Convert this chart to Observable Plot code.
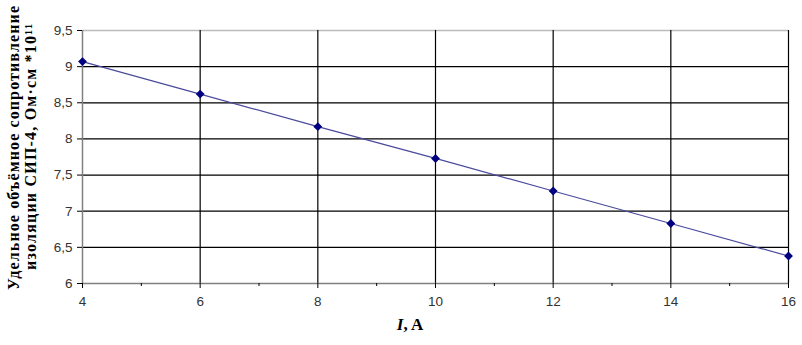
<!DOCTYPE html>
<html>
<head>
<meta charset="utf-8">
<script src="https://cdn.jsdelivr.net/npm/d3@7"></script>
<script src="https://cdn.jsdelivr.net/npm/@observablehq/plot@0.6"></script>
<style>
  html, body { margin: 0; padding: 0; background: #fff; }
  #chart svg { display: block; }
</style>
</head>
<body>
<div id="chart"></div>
<script>
const currents = [4, 6, 8, 10, 12, 14, 16];
const resistivity = [9.07, 8.62, 8.17, 7.73, 7.28, 6.83, 6.38];
const xTicks = [4, 6, 8, 10, 12, 14, 16];
const xMinorTicks = [5, 7, 9, 11, 13, 15];
const yTicks = [6, 6.5, 7, 7.5, 8, 8.5, 9, 9.5];
const yLabelLines = ["Удельное объёмное сопротивление", "изоляции СИП-4, Ом·см *10¹¹"];

const data = currents.map((c, i) => ({x: c, y: resistivity[i]}));
const fmt = d => String(d).replace(".", ",");
const serif = "'Liberation Serif', 'Times New Roman', serif";

const plot = Plot.plot({
  width: 802,
  height: 345,
  marginLeft: 82,
  marginRight: 14,
  marginTop: 30,
  marginBottom: 62,
  style: {fontFamily: "'Liberation Sans', Arial, sans-serif", fontSize: "13px", color: "#333", background: "#fff"},
  x: {domain: [4, 16]},
  y: {domain: [6, 9.5]},
  marks: [
    Plot.ruleY(yTicks.filter(d => d > 6 && d < 9.5), {stroke: "#000", strokeWidth: 1.2}),
    Plot.ruleY([9.5], {stroke: "#bbb", strokeWidth: 1.5}),
    Plot.ruleX(xTicks.filter(d => d > 4), {stroke: "#000", strokeWidth: 1.2}),
    Plot.ruleX([4], {stroke: "#808080", strokeWidth: 1.5}),
    Plot.ruleY([6], {stroke: "#808080", strokeWidth: 1.5}),
    Plot.axisX({ticks: xTicks, tickSize: 5, tickPadding: 8, tickFormat: fmt, label: null, stroke: "#000", fontSize: 13.5}),
    Plot.axisX({ticks: xMinorTicks, tickSize: 3, tickFormat: () => "", label: null, stroke: "#000"}),
    Plot.axisY({ticks: yTicks, tickSize: 5, tickPadding: 5, tickFormat: fmt, label: null, stroke: "#000", fontSize: 13.5}),
    Plot.line(data, {x: "x", y: "y", stroke: "#4a4a9c", strokeWidth: 1.2}),
    Plot.dot(data, {x: "x", y: "y", symbol: "diamond2", r: 4, fill: "#000080", stroke: "none"}),
    Plot.text([yLabelLines[0]], {text: d => d, frameAnchor: "left", textAnchor: "middle", rotate: -90, dx: -69, dy: -9,
      fontFamily: serif, fontWeight: "bold", fontSize: 16, fill: "#000", className: "ylab1"}),
    Plot.text([yLabelLines[1]], {text: d => d, frameAnchor: "left", textAnchor: "middle", rotate: -90, dx: -52, dy: -10,
      fontFamily: serif, fontWeight: "bold", fontSize: 16, fill: "#000", className: "ylab2"})
  ]
});

d3.select(plot).selectAll(".ylab1 text").attr("textLength", 284).attr("lengthAdjust", "spacing");
d3.select(plot).selectAll(".ylab2 text").attr("textLength", 246).attr("lengthAdjust", "spacing");

const label = document.createElement("div");
label.style.cssText = "position:absolute;left:0;top:315px;width:820px;text-align:center;font:bold 17px 'Liberation Serif','Times New Roman',serif;color:#000;";
label.innerHTML = "<i>I</i>, A";
const wrap = document.getElementById("chart");
wrap.style.position = "relative";
wrap.appendChild(plot);
wrap.appendChild(label);
</script>
</body>
</html>
